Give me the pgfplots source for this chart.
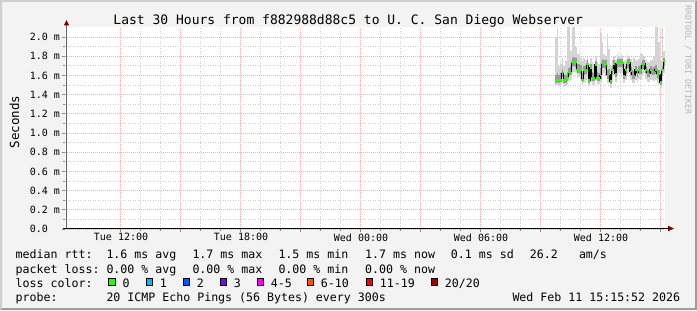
\documentclass[border=0pt]{standalone}
\usepackage{pgfplots}
\pgfplotsset{compat=1.18}
\usepackage{pgfplotstable}
\usepackage{fontspec}
\setmainfont{DejaVu Sans Mono}
\setmonofont{DejaVu Sans Mono}
\newcommand\ft[1]{\fontsize{#1bp}{#1bp}\selectfont}
\definecolor{bgc}{HTML}{F3F3F3}
\definecolor{shadea}{HTML}{CFCFCF}
\definecolor{shadeb}{HTML}{9E9E9E}
\definecolor{mgrid}{HTML}{F4B0B0}
\definecolor{mingrid}{HTML}{D2D2D2}
\definecolor{arrowc}{HTML}{7F0000}
\definecolor{smokeA}{HTML}{D4D4D4}
\definecolor{smokeB}{HTML}{999999}
\definecolor{lc0}{HTML}{26FF00}
\definecolor{lc1}{HTML}{00B8FF}
\definecolor{lc2}{HTML}{0059FF}
\definecolor{lc3}{HTML}{7E00FF}
\definecolor{lc4}{HTML}{FF00FF}
\definecolor{lc5}{HTML}{FF5500}
\definecolor{lc6}{HTML}{FF0000}
\definecolor{lc7}{HTML}{A10000}
\pgfplotstableread{
t      lo   q1   med  q3   hi
33.792 1.50 1.52 1.55 1.60 2.00
33.875 1.50 1.53 1.55 1.62 2.09
33.958 1.49 1.52 1.55 1.60 1.70
34.042 1.50 1.53 1.55 1.62 1.72
34.125 1.52 1.58 1.63 1.67 1.78
34.208 1.48 1.52 1.55 1.60 1.70
34.292 1.49 1.52 1.55 1.60 1.75
34.375 1.50 1.54 1.57 1.64 2.20
34.458 1.54 1.59 1.63 1.68 2.20
34.542 1.55 1.60 1.63 1.70 1.85
34.625 1.62 1.69 1.74 1.78 2.20
34.708 1.64 1.70 1.74 1.79 2.20
34.792 1.63 1.69 1.74 1.78 1.90
34.875 1.57 1.62 1.66 1.72 1.82
34.958 1.58 1.62 1.66 1.72 1.82
35.042 1.56 1.61 1.66 1.71 1.78
35.125 1.50 1.53 1.55 1.62 1.75
35.208 1.52 1.60 1.66 1.70 1.78
35.292 1.55 1.61 1.66 1.71 1.76
35.375 1.58 1.66 1.72 1.76 1.80
35.458 1.49 1.52 1.55 1.62 1.72
35.542 1.53 1.62 1.68 1.72 1.78
35.625 1.50 1.54 1.57 1.64 1.74
35.708 1.50 1.54 1.57 1.63 1.72
35.792 1.55 1.64 1.71 1.75 1.80
35.875 1.50 1.54 1.57 1.64 1.74
35.958 1.51 1.54 1.57 1.63 1.72
36.042 1.52 1.56 1.60 1.68 2.04
36.125 1.60 1.68 1.73 1.77 1.95
36.208 1.62 1.68 1.72 1.76 1.82
36.292 1.60 1.67 1.72 1.76 1.80
36.375 1.52 1.56 1.60 1.66 2.03
36.458 1.52 1.56 1.61 1.67 1.87
36.542 1.47 1.51 1.54 1.59 1.70
36.625 1.52 1.60 1.66 1.70 1.76
36.708 1.60 1.67 1.72 1.76 1.80
36.792 1.53 1.58 1.62 1.67 1.76
36.875 1.60 1.68 1.73 1.77 1.82
36.958 1.63 1.69 1.73 1.77 1.80
37.042 1.63 1.69 1.73 1.77 1.81
37.125 1.62 1.68 1.73 1.77 1.80
37.208 1.52 1.56 1.60 1.66 1.75
37.292 1.55 1.61 1.66 1.70 1.76
37.375 1.61 1.68 1.73 1.77 1.81
37.458 1.62 1.68 1.73 1.77 1.80
37.542 1.55 1.60 1.64 1.69 1.77
37.625 1.52 1.56 1.60 1.66 1.74
37.708 1.52 1.56 1.60 1.65 1.78
37.792 1.55 1.61 1.66 1.70 1.76
37.875 1.53 1.58 1.62 1.67 1.75
37.958 1.56 1.61 1.66 1.70 1.77
38.042 1.55 1.61 1.66 1.71 1.82
38.125 1.60 1.67 1.72 1.76 1.82
38.208 1.62 1.67 1.72 1.76 1.80
38.292 1.56 1.62 1.66 1.70 1.76
38.375 1.53 1.58 1.62 1.67 1.74
38.458 1.53 1.58 1.62 1.66 1.74
38.542 1.55 1.61 1.66 1.70 1.76
38.625 1.55 1.60 1.64 1.68 1.76
38.708 1.54 1.60 1.64 1.69 1.80
38.792 1.55 1.61 1.66 1.71 2.20
38.875 1.52 1.57 1.61 1.67 2.20
38.958 1.51 1.56 1.61 1.66 1.95
39.042 1.47 1.50 1.53 1.58 1.75
39.125 1.53 1.60 1.66 1.70 2.09
39.208 1.63 1.70 1.75 1.78 1.85
}\smoke
\begin{document}
\frenchspacing
\begin{tikzpicture}
\begin{scope}[x=1bp,y=1bp]
\fill[bgc] (0,0) rectangle (697,310);
\fill[shadea] (0,0) -- (0,310) -- (697,310) -- (695,308) -- (2,308) -- (2,2) -- cycle;
\fill[shadeb] (0,0) -- (697,0) -- (697,310) -- (695,308) -- (695,2) -- (2,2) -- cycle;
\end{scope}
\begin{axis}[at={(65.3bp,81bp)}, anchor=south west, scale only axis,
  width=600bp, height=201.6bp,
  xmin=9.264, xmax=39.264, ymin=0, ymax=2.1,
  axis line style={draw=none},
  axis background/.style={fill=white},
  xtick={12,15,18,21,24,27,30,33,36,39},
  xticklabels={Tue 12:00,,Tue 18:00,,Wed 00:00,,Wed 06:00,,Wed 12:00,{}},
  minor x tick num=2,
  ytick={0,0.2,0.4,0.6,0.8,1.0,1.2,1.4,1.6,1.8,2.0},
  yticklabels={0.0,0.2 m,0.4 m,0.6 m,0.8 m,1.0 m,1.2 m,1.4 m,1.6 m,1.8 m,2.0 m},
  minor y tick num=1,
  grid=both,
  major grid style={mgrid, dash pattern=on 1bp off 1bp, line width=0.8bp},
  minor grid style={mingrid, dash pattern=on 1bp off 1.5bp, line width=0.8bp},
  xtick pos=bottom, ytick pos=left,
  tick align=inside, major tick length=-3bp, minor tick length=-2bp,
  tick style={black!45, line width=0.8bp},
  xticklabel style={font=\ft{10}, anchor=north, inner sep=0pt, yshift=-4.3bp, xshift=1bp},
  yticklabel style={font=\ft{10}, anchor=west, inner sep=0pt, xshift=-35.6bp},
]
\addplot[forget plot, draw=none, mark=none,
  error bars/.cd, y dir=both, y explicit, error mark=none,
  error bar style={draw=smokeA, line width=1.75bp, solid}]
  table[x=t, y=med, y error plus expr=\thisrow{hi}-\thisrow{med},
        y error minus expr=\thisrow{med}-\thisrow{lo}] {\smoke};
\addplot[forget plot, draw=none, mark=none,
  error bars/.cd, y dir=both, y explicit, error mark=none,
  error bar style={draw=smokeB, line width=1.75bp, solid}]
  table[x=t, y=med, y error plus expr=\thisrow{q3}-\thisrow{med},
        y error minus expr=\thisrow{med}-\thisrow{q1}] {\smoke};
\addplot[const plot mark mid, black, line width=1.2bp, mark=none] table[x=t, y=med] {\smoke};
\addplot[only marks, mark=-, mark size=1.1bp, mark options={lc0, line width=1.8bp}] table[x=t, y=med] {\smoke};
\end{axis}
\begin{scope}[x=1bp,y=1bp]
% axes
\draw[black!60, line width=1bp] (66.5,81) -- (66.5,285);
\fill[arrowc] (63.8,284.5) -- (69.2,284.5) -- (66.5,290) -- cycle;
\draw[black, line width=1bp] (63,81.5) -- (668.5,81.5);
\fill[arrowc] (668,78.8) -- (668,84.2) -- (674,81.5) -- cycle;
% title and labels
\node[anchor=base, inner sep=0pt, font=\ft{13}] at (348.3,285.5) {Last 30 Hours from f882988d88c5 to U. C. San Diego Webserver};
\node[rotate=90, inner sep=0pt, font=\ft{12.5}] at (14.5,188) {Seconds};
\node[rotate=-90, inner sep=0pt, font=\ft{8.3}, text=black!28] at (688,250) {RRDTOOL / TOBI OETIKER};
% legend
\begin{scope}[every node/.style={anchor=base west, inner sep=0pt, font=\ft{11.6}}]
\node at (15.5,51.3) {median rtt:};
\node at (106.3,51.3) {1.6 ms avg};
\node at (192.3,51.3) {1.7 ms max};
\node at (278.3,51.3) {1.5 ms min};
\node at (365,51.3) {1.7 ms now};
\node at (450.7,51.3) {0.1 ms sd};
\node at (529.7,51.3) {26.2};
\node at (578.8,51.3) {am/s};
\node at (15.5,36.8) {packet loss:};
\node at (106.3,36.8) {0.00 \% avg};
\node at (192.3,36.8) {0.00 \% max};
\node at (278.3,36.8) {0.00 \% min};
\node at (365,36.8) {0.00 \% now};
\node at (15.5,22.7) {loss color:};
\foreach \bx/\lab/\col in {108.3/0/lc0, 145.7/1/lc1, 182.7/2/lc2, 219.7/3/lc3, 256.7/4-5/lc4, 306.7/6-10/lc5, 365.7/11-19/lc6, 430.7/20\slash 20/lc7}{
  \filldraw[fill=\col, draw=black, line width=1bp] (\bx+0.5,24.5) rectangle (\bx+7.2,31.2);
  \node at (\bx+14,22.7) {\lab};
}
\node at (15.5,8.5) {probe:};
\node at (106.3,8.5) {20 ICMP Echo Pings (56 Bytes) every 300s};
\node at (512.3,8.5) {Wed Feb 11 15:15:52 2026};
\end{scope}
\end{scope}
\end{tikzpicture}
\end{document}
